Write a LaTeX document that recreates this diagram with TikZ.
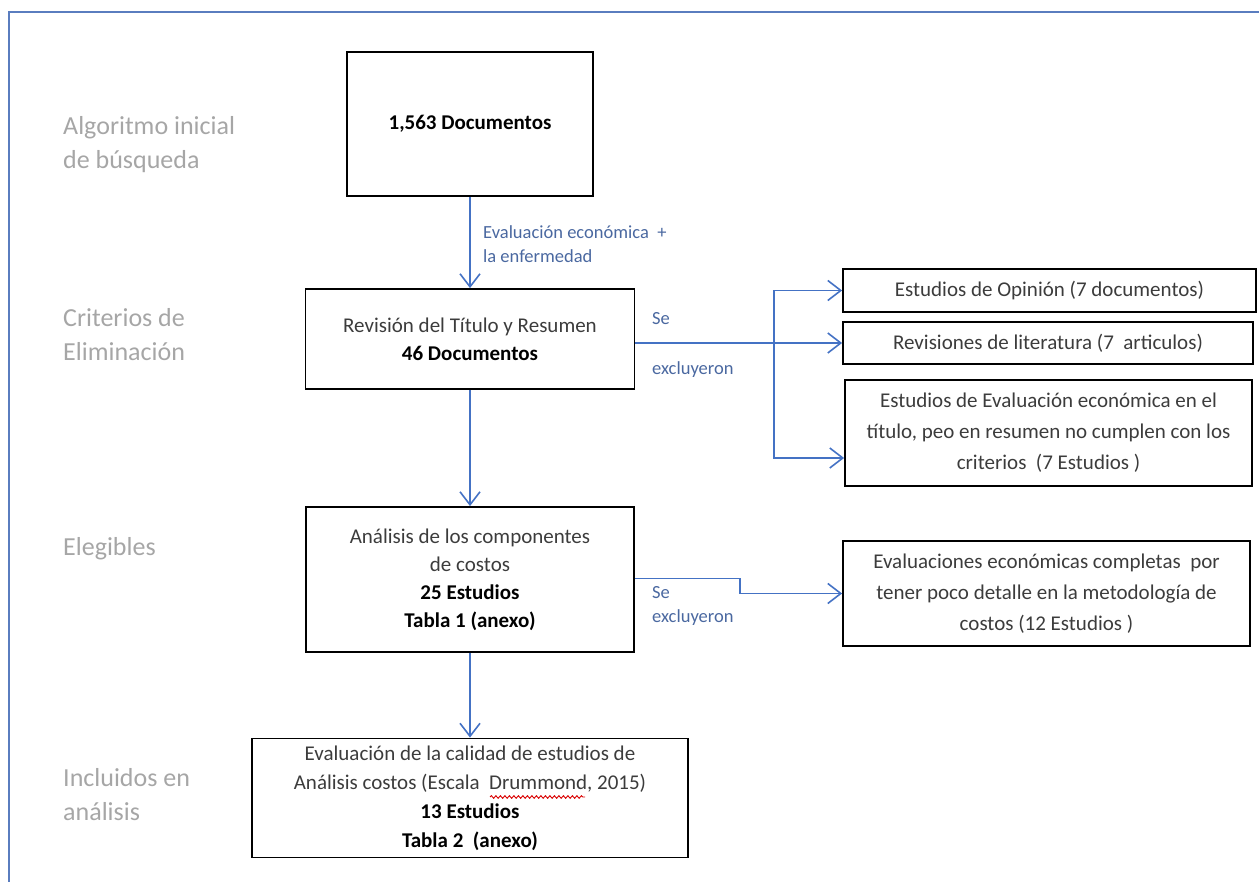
\documentclass[tikz,border=0pt]{standalone}
\usepackage{fontspec}
\setmainfont{Carlito}
\usetikzlibrary{arrows.meta,decorations.pathmorphing}

\definecolor{framecol}{HTML}{5A7DBF}
\definecolor{arrowcol}{HTML}{4472C4}
\definecolor{notecol}{HTML}{4A68A0}
\definecolor{stagecol}{HTML}{A6A6A6}
\definecolor{txtgray}{HTML}{3C3C3C}

\tikzset{
  box/.style={draw=black, line width=1.8pt, inner sep=0pt, align=center,
    text=txtgray, font=\fontsize{21}{28}\selectfont},
  sidebox/.style={box, font=\fontsize{21}{31}\selectfont},
  stage/.style={anchor=west, align=left, inner sep=0pt, text=stagecol,
    font=\fontsize{26}{34}\selectfont},
  note/.style={anchor=west, align=left, inner sep=0pt, text=notecol,
    font=\fontsize{18.5}{24}\selectfont},
  arr/.style={draw=arrowcol, line width=1.6pt,
    -{Straight Barb[length=13pt,width=20pt,line width=1.6pt]}},
}

\begin{document}
\begin{tikzpicture}[x=1pt,y=-1pt]
\useasboundingbox (0,0) rectangle (1259,882);

% outer frame (continues past the right and bottom edges)
\draw[framecol, line width=2pt] (9,882) -- (9,12) -- (1259,12);

% stage labels
\node[stage] (s1) at (63,145) {Algoritmo inicial\\de búsqueda};
\node[stage] (s2) at (63,334.5) {Criterios de\\Eliminación};
\node[stage] (s3) at (63,549) {Elegibles};
\node[stage] (s4) at (63,795) {Incluidos en\\análisis};

% main column
\node[box, minimum width=246pt, minimum height=144pt] (b1) at (470,124)
  {\textbf{\color{black}1,563 Documentos}};
\node[box, minimum width=329pt, minimum height=100pt] (b2) at (470,339)
  {Revisión del Título y Resumen\\\textbf{\color{black}46 Documentos}};
\node[box, minimum width=328pt, minimum height=145pt] (b3) at (470,579.5)
  {Análisis de los componentes\\de costos\\\textbf{\color{black}25 Estudios}\\\textbf{\color{black}Tabla 1 (anexo)}};
\node[box, minimum width=436pt, minimum height=119pt,
  font=\fontsize{21}{29}\selectfont] (b5) at (470,798)
  {Evaluación de la calidad de estudios de\\Análisis costos (Escala~~Drummond, 2015)\\\textbf{\color{black}13 Estudios}\\\textbf{\color{black}Tabla 2~~(anexo)}};

% excluded studies
\node[sidebox, minimum width=413pt, minimum height=43pt] (r1) at (1049.5,290.5)
  {Estudios de Opinión (7 documentos)};
\node[sidebox, minimum width=410pt, minimum height=42pt] (r2) at (1048,343)
  {Revisiones de literatura (7~~articulos)};
\node[sidebox, minimum width=407pt, minimum height=106pt] (r3) at (1048.5,433)
  {Estudios de Evaluación económica en el\\título, peo en resumen no cumplen con los\\criterios~~(7 Estudios )};
\node[sidebox, minimum width=407pt, minimum height=105pt] (r4) at (1046.5,593.5)
  {Evaluaciones económicas completas~~por\\tener poco detalle en la metodología de\\costos (12 Estudios )};

% spelling mark under "Drummond"
\draw[red!85!black, line width=0.9pt,
  decorate, decoration={snake, amplitude=1.3pt, segment length=4.5pt}]
  (490,797) -- (585,797);

% connector notes
\node[note] (n1) at (483,244) {Evaluación económica~~+\\la enfermedad};
\node[note] (n2) at (652,345) {Se\\[26pt]excluyeron};
\node[note] (n3) at (652,605.5) {Se\\excluyeron};

% connectors
\draw[arr] (b1.south) -- (b2.north);
\draw[arr] (b2.south) -- (b3.north);
\draw[arr] (b3.south) -- (b5.north);

\draw[arr] (b2.east |- r2.west) -- (r2.west);
\coordinate (j) at (774,343);
\coordinate (r3in) at ([yshift=-25pt]r3.west);
\draw[arr] (j) |- (r1.west);
\draw[arr] (j) |- (r3in);

\draw[arr] ([yshift=1pt]b3.east) -- ++(105,0) |- (r4.west);
\end{tikzpicture}
\end{document}
